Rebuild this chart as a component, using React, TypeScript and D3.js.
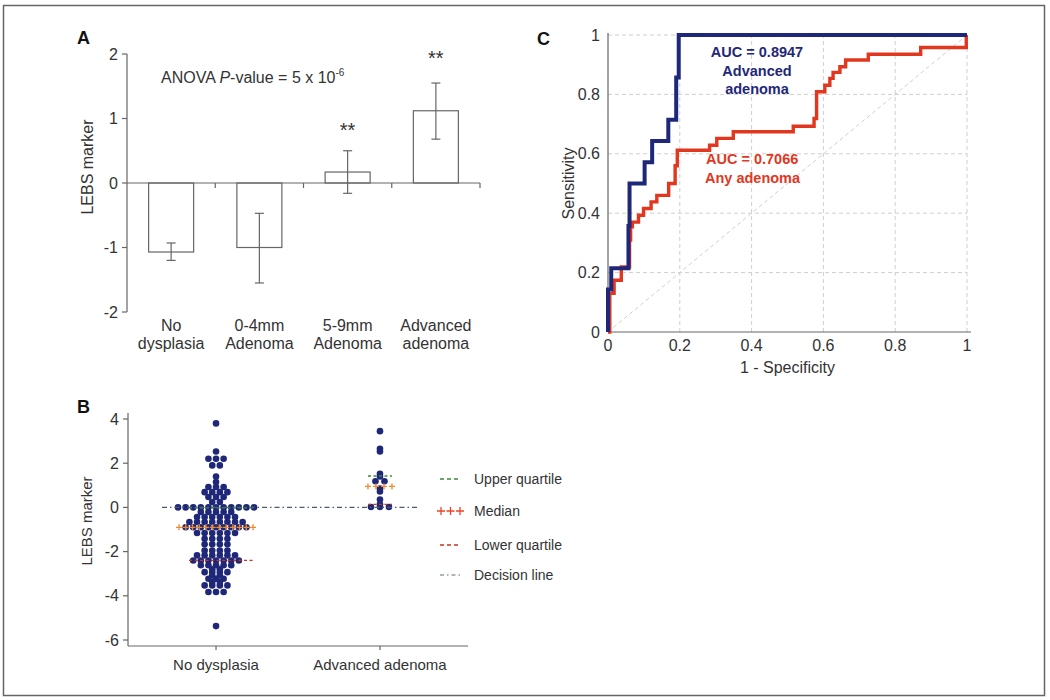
import React from 'react';
import * as d3 from 'd3';

// ---------- Panel A data ----------
const barCategories = [['No', 'dysplasia'], ['0-4mm', 'Adenoma'], ['5-9mm', 'Adenoma'], ['Advanced', 'adenoma']];
const barMeans = [-1.07, -1.0, 0.17, 1.12];
const barLower = [-1.2, -1.55, -0.16, 0.68];
const barUpper = [-0.93, -0.47, 0.5, 1.55];
const barStars = ['', '', '**', '**'];
const starValues = [0, 0, 0.88, 2.0];
const aTicks = [-2, -1, 0, 1, 2];

// ---------- Panel B data ----------
const swarmCategories = ['No dysplasia', 'Advanced adenoma'];
const noDysplasiaValues = [
  3.8, 2.53, 2.2, 2.2, 2.2, 1.9, 1.9, 1.4, 1.15,
  0.92, 0.92, 0.92, 0.69, 0.69, 0.69, 0.69, 0.47, 0.47, 0.47, 0.24, 0.24,
  0, 0, 0, 0, 0, 0, 0, 0, 0, 0, 0,
  -0.21, -0.21, -0.21, -0.21, -0.21,
  -0.44, -0.44, -0.44, -0.44, -0.44, -0.44,
  -0.66, -0.66, -0.66, -0.66, -0.66, -0.66, -0.66, -0.66,
  -0.9, -0.9, -0.9, -0.9, -0.9, -0.9, -0.9, -0.9, -0.9,
  -1.16, -1.16, -1.16, -1.16, -1.16, -1.16,
  -1.42, -1.42, -1.42, -1.42,
  -1.67, -1.67, -1.67, -1.67,
  -1.95, -1.95, -1.95, -1.95,
  -2.17, -2.17, -2.17, -2.17, -2.17, -2.17,
  -2.4, -2.4, -2.4, -2.4, -2.4, -2.4, -2.4,
  -2.62, -2.62, -2.62, -2.62, -2.62,
  -2.8, -2.8,
  -2.93, -2.93, -2.93, -2.93,
  -3.08, -3.08,
  -3.23, -3.23, -3.23,
  -3.38, -3.38,
  -3.53, -3.53, -3.53, -3.53,
  -3.83, -3.83, -3.83,
  -5.37,
];
const advancedValues = [3.45, 2.65, 2.53, 1.52, 1.4, 1.18, 1.18, 0.85, 0.72, 0.36, 0.14, 0.02, 0.02, 0.02];
const upperQuartiles = [-0.02, 1.42];
const medians = [-0.9, 0.95];
const lowerQuartiles = [-2.4, 0.14];
const decisionValue = 0;
const bTicks = [-6, -4, -2, 0, 2, 4];
const legendLabels = ['Upper quartile', 'Median', 'Lower quartile', 'Decision line'];

// ---------- Panel C data ----------
const rocTicks = [0, 0.2, 0.4, 0.6, 0.8, 1];
const advFpr = [0, 0, 0.009, 0.057, 0.06, 0.102, 0.123, 0.168, 0.19, 0.197, 1];
const advTpr = [0, 2 / 14, 3 / 14, 5 / 14, 7 / 14, 8 / 14, 9 / 14, 10 / 14, 12 / 14, 1, 1];
const anyFpr = [0, 0.005, 0.017, 0.037, 0.06, 0.063, 0.068, 0.085, 0.099, 0.12, 0.136, 0.169, 0.187, 0.193, 0.283, 0.303, 0.349, 0.516, 0.574, 0.581, 0.604, 0.618, 0.627, 0.646, 0.662, 0.725, 0.871, 0.998, 0.998];
const anyTpr = [0, 0.13, 0.174, 0.219, 0.31, 0.354, 0.37, 0.393, 0.416, 0.438, 0.46, 0.5, 0.56, 0.612, 0.629, 0.652, 0.674, 0.693, 0.719, 0.809, 0.831, 0.854, 0.874, 0.893, 0.916, 0.935, 0.958, 0.958, 1.0];

const FONT = '"Liberation Sans", Arial, Helvetica, sans-serif';
const TXT = '#333';
const AX = '#666';
const NAVY = '#1f2878';
const RED = '#e2371f';

function swarm(values: number[], cx: number, y: d3.ScaleLinear<number, number>, spacing: number) {
  const groups = d3.group(values.map((v, i) => ({ v, i })), (d) => d.v);
  const out: { x: number; y: number }[] = [];
  groups.forEach((arr) => {
    const n = arr.length;
    arr.forEach((d, k) => {
      out.push({ x: cx + (k - (n - 1) / 2) * spacing, y: y(d.v) });
    });
  });
  return out;
}

export default function App() {
  // Panel A scales
  const xA = d3.scaleBand<number>().domain(d3.range(barMeans.length)).range([127, 480]).paddingInner(0.49).paddingOuter(0.245);
  const yA = d3.scaleLinear().domain([-2, 2]).range([312, 54]);
  const stepA = xA.step();
  const bwA = xA.bandwidth();

  // Panel B scales
  const xB = d3.scalePoint<string>().domain(swarmCategories).range([128, 468]).padding(0.537);
  const yB = d3.scaleLinear().domain([-6, 4]).range([640, 419]);
  const dotsNo = swarm(noDysplasiaValues, xB(swarmCategories[0])!, yB, 7.6);
  const dotsAdv = swarm(advancedValues, xB(swarmCategories[1])!, yB, 9);
  const halfW = [37, 12];

  // Panel C scales
  const xC = d3.scaleLinear().domain([0, 1]).range([608, 967]);
  const yC = d3.scaleLinear().domain([0, 1]).range([332, 35]);
  const rocLine = d3.line<number>().x((d) => xC(d)).curve(d3.curveStepAfter);
  const advPath = d3.line<number>().x((i) => xC(advFpr[i])).y((i) => yC(advTpr[i])).curve(d3.curveStepAfter)(d3.range(advFpr.length));
  const anyPath = d3.line<number>().x((i) => xC(anyFpr[i])).y((i) => yC(anyTpr[i])).curve(d3.curveStepAfter)(d3.range(anyFpr.length));
  void rocLine;

  const plus = (x: number, y: number, s: number, color: string, key: string) => (
    <path key={key} d={`M${x - s},${y}H${x + s}M${x},${y - s}V${y + s}`} stroke={color} strokeWidth={1.3} fill="none" />
  );

  const legendY = [479, 511, 545, 575];

  return (
    <svg width={1050} height={700} style={{ position: 'absolute', left: 0, top: 0, background: '#fff' }} fontFamily={FONT}>
      <rect x={3.5} y={5.5} width={1041} height={690} fill="#fff" stroke="#666" strokeWidth={1.5} />

      {/* ================= Panel A ================= */}
      <text x={77} y={44} fontSize={18} fontWeight="bold" fill="#111">A</text>
      {/* y axis */}
      <line x1={127} x2={127} y1={yA(2)} y2={yA(-2)} stroke={AX} strokeWidth={1.2} />
      {aTicks.map((t) => (
        <g key={t}>
          <line x1={122} x2={127} y1={yA(t)} y2={yA(t)} stroke={AX} strokeWidth={1.2} />
          <text x={118} y={yA(t)} dy="0.35em" textAnchor="end" fontSize={16} fill={TXT}>{t}</text>
        </g>
      ))}
      <text transform={`translate(93,${(yA(2) + yA(-2)) / 2 - 16}) rotate(-90)`} textAnchor="middle" fontSize={16} fill={TXT}>LEBS marker</text>
      {/* bars */}
      {barMeans.map((v, i) => (
        <rect key={i} x={xA(i)} width={bwA} y={yA(Math.max(0, v))} height={Math.abs(yA(v) - yA(0))} fill="#fff" stroke={AX} strokeWidth={1.2} />
      ))}
      {/* x axis */}
      <line x1={127} x2={480} y1={yA(0)} y2={yA(0)} stroke={AX} strokeWidth={1.2} />
      {d3.range(1, barMeans.length + 1).map((k) => (
        <line key={k} x1={127 + k * stepA} x2={127 + k * stepA} y1={yA(0)} y2={yA(0) + 5} stroke={AX} strokeWidth={1.2} />
      ))}
      {/* error bars */}
      {barMeans.map((v, i) => {
        const cx = xA(i)! + bwA / 2;
        return (
          <g key={i} stroke={AX} strokeWidth={1.2}>
            <line x1={cx} x2={cx} y1={yA(barUpper[i])} y2={yA(barLower[i])} />
            <line x1={cx - 4.5} x2={cx + 4.5} y1={yA(barUpper[i])} y2={yA(barUpper[i])} />
            <line x1={cx - 4.5} x2={cx + 4.5} y1={yA(barLower[i])} y2={yA(barLower[i])} />
          </g>
        );
      })}
      {barStars.map((s, i) => s ? (
        <text key={i} x={xA(i)! + bwA / 2} y={yA(starValues[i]) + 11} textAnchor="middle" fontSize={20} fill={TXT}>{s}</text>
      ) : null)}
      {barCategories.map((lines, i) => (
        <text key={i} textAnchor="middle" fontSize={16} fill={TXT}>
          <tspan x={xA(i)! + bwA / 2} y={331}>{lines[0]}</tspan>
          <tspan x={xA(i)! + bwA / 2} y={349}>{lines[1]}</tspan>
        </text>
      ))}
      <text x={161} y={83} fontSize={16} fill={TXT}>
        ANOVA <tspan fontStyle="italic">P</tspan>-value = 5 x 10<tspan fontSize={10} dy={-7}>-6</tspan>
      </text>

      {/* ================= Panel B ================= */}
      <text x={77} y={413} fontSize={18} fontWeight="bold" fill="#111">B</text>
      <line x1={128} x2={128} y1={413} y2={646} stroke={AX} strokeWidth={1.2} />
      <line x1={128} x2={468} y1={646} y2={646} stroke={AX} strokeWidth={1.2} />
      {bTicks.map((t) => (
        <g key={t}>
          <line x1={123} x2={128} y1={yB(t)} y2={yB(t)} stroke={AX} strokeWidth={1.2} />
          <text x={119} y={yB(t)} dy="0.35em" textAnchor="end" fontSize={16} fill={TXT}>{t}</text>
        </g>
      ))}
      {swarmCategories.map((c) => (
        <g key={c}>
          <line x1={xB(c)} x2={xB(c)} y1={646} y2={650} stroke={AX} strokeWidth={1.2} />
          <text x={xB(c)} y={670} textAnchor="middle" fontSize={15} fill={TXT}>{c}</text>
        </g>
      ))}
      <text transform={`translate(92,521) rotate(-90)`} textAnchor="middle" fontSize={15} fill={TXT}>LEBS marker</text>
      {/* dots */}
      {dotsNo.map((d, i) => <circle key={'n' + i} cx={d.x} cy={d.y} r={3.3} fill={NAVY} />)}
      {dotsAdv.map((d, i) => <circle key={'a' + i} cx={d.x} cy={d.y} r={3.3} fill={NAVY} />)}
      {/* decision line */}
      <line x1={162} x2={418} y1={yB(decisionValue)} y2={yB(decisionValue)} stroke="#4d5b6e" strokeWidth={1.2} strokeDasharray="5,3,1.5,3" />
      {/* quartiles */}
      {swarmCategories.map((c, i) => {
        const cx = xB(c)!;
        const hw = halfW[i];
        const nPlus = Math.round((2 * hw) / 7);
        return (
          <g key={c}>
            <line x1={cx - hw + (i === 0 ? 10 : 0)} x2={cx + hw} y1={yB(upperQuartiles[i])} y2={yB(upperQuartiles[i])} stroke="#3a8a3a" strokeWidth={1.3} strokeDasharray="3,2.5" />
            <line x1={cx - hw + (i === 0 ? 10 : 0)} x2={cx + hw} y1={yB(lowerQuartiles[i])} y2={yB(lowerQuartiles[i])} stroke="#c8321e" strokeWidth={1.3} strokeDasharray="3,2.5" />
            {d3.range(nPlus + 1).map((k) => plus(cx - hw + (k * 2 * hw) / nPlus, yB(medians[i]), 3, '#f08a2c', c + k))}
          </g>
        );
      })}
      {/* legend */}
      <line x1={440} x2={460} y1={legendY[0]} y2={legendY[0]} stroke="#3a8a3a" strokeWidth={1.5} strokeDasharray="4,3" />
      {[0, 1, 2].map((k) => plus(441 + k * 9.5, legendY[1], 4, '#ec4426', 'lp' + k))}
      <line x1={440} x2={460} y1={legendY[2]} y2={legendY[2]} stroke="#c8321e" strokeWidth={1.5} strokeDasharray="4,3" />
      <line x1={440} x2={461} y1={legendY[3]} y2={legendY[3]} stroke="#5b6b7e" strokeWidth={1.2} strokeDasharray="4,3,1.5,3" />
      {legendLabels.map((l, k) => (
        <text key={l} x={474} y={legendY[k]} dy="0.35em" fontSize={14} fill={TXT}>{l}</text>
      ))}

      {/* ================= Panel C ================= */}
      <text x={537} y={45} fontSize={18} fontWeight="bold" fill="#111">C</text>
      {rocTicks.filter((t) => t > 0).map((t) => (
        <g key={t} stroke="#cfcfcf" strokeWidth={1} strokeDasharray="4,3">
          <line x1={xC(t)} x2={xC(t)} y1={yC(0)} y2={yC(1)} />
          <line x1={xC(0)} x2={xC(1)} y1={yC(t)} y2={yC(t)} />
        </g>
      ))}
      <line x1={xC(0)} y1={yC(0)} x2={xC(1)} y2={yC(1)} stroke="#cfcfcf" strokeWidth={1} strokeDasharray="4,3" />
      <line x1={xC(0)} x2={xC(0)} y1={yC(0)} y2={yC(1) - 2} stroke={AX} strokeWidth={1.2} />
      <line x1={xC(0)} x2={xC(1) + 4} y1={yC(0)} y2={yC(0)} stroke={AX} strokeWidth={1.2} />
      {rocTicks.map((t) => (
        <g key={t}>
          <text x={600} y={yC(t)} dy="0.35em" textAnchor="end" fontSize={16} fill={TXT}>{String(t)}</text>
          <text x={xC(t)} y={351} textAnchor="middle" fontSize={16} fill={TXT}>{String(t)}</text>
        </g>
      ))}
      <text x={(xC(0) + xC(1)) / 2} y={373} textAnchor="middle" fontSize={16} fill={TXT}>1 - Specificity</text>
      <text transform={`translate(574,${(yC(0) + yC(1)) / 2}) rotate(-90)`} textAnchor="middle" fontSize={16} fill={TXT}>Sensitivity</text>
      <path d={anyPath ?? ''} fill="none" stroke={RED} strokeWidth={3.4} />
      <path d={advPath ?? ''} fill="none" stroke={NAVY} strokeWidth={4} />
      <text textAnchor="middle" fontSize={14.5} fontWeight="bold" fill={NAVY}>
        <tspan x={757} y={57}>AUC = 0.8947</tspan>
        <tspan x={757} y={76}>Advanced</tspan>
        <tspan x={757} y={94}>adenoma</tspan>
      </text>
      <text textAnchor="start" fontSize={14.5} fontWeight="bold" fill={RED}>
        <tspan x={706} y={164}>AUC = 0.7066</tspan>
        <tspan x={705} y={183}>Any adenoma</tspan>
      </text>
    </svg>
  );
}
